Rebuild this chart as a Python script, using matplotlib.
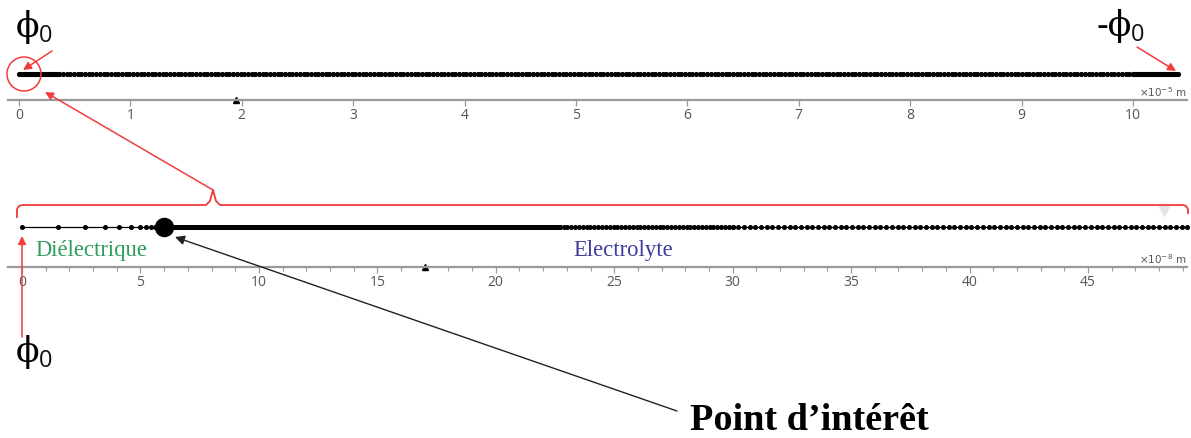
import numpy as np
import matplotlib.pyplot as plt
from matplotlib.patches import Circle

# --- mesh data (x positions in axis units) ---
# top view: (start, end, n_elements) in units of 1e-5 m
top_segments = [(0.0, 0.36, 40), (0.36, 10.0, 290), (10.0, 10.4, 40)]
top_ticks = [0, 1, 2, 3, 4, 5, 6, 7, 8, 9, 10]
top_marker_x = 1.95

# bottom view: units of 1e-8 m
diel_nodes = [0.0, 1.5, 2.66, 3.5, 4.1, 4.6, 5.0, 5.25, 5.45, 5.6, 5.72, 5.82, 5.9, 5.95]
elec_segments = [(6.0, 22.7, 420), (22.7, 30.0, 45), (30.0, 49.2, 80)]
bottom_ticks = [0, 5, 10, 15, 20, 25, 30, 35, 40, 45]
bottom_marker_x = 17.0
point_x = 6.0

W, H = 1191, 439


def build_nodes(segments, start=None):
    nodes = [] if start is None else list(start)
    for a, b, n in segments:
        nodes.extend(np.linspace(a, b, n + 1))
    return np.array(nodes)


def px_axes(fig, left, right, top, bottom):
    return fig.add_axes([left / W, 1 - bottom / H, (right - left) / W, (bottom - top) / H])


def style_axis(ax, ticks, minor, unit):
    for s in ['top', 'left', 'right']:
        ax.spines[s].set_visible(False)
    ax.spines['bottom'].set_color('#9a9a9a')
    ax.spines['bottom'].set_linewidth(1.6)
    ax.set_yticks([])
    ax.set_xticks(ticks)
    if minor:
        ax.set_xticks(np.arange(0, 50, 1), minor=True)
        ax.tick_params(axis='x', which='minor', length=3, width=0.8, color='#9a9a9a')
    ax.tick_params(axis='x', which='major', length=4, width=0.9, color='#9a9a9a',
                   labelsize=10, labelcolor='#555555', pad=1)
    for lab in ax.get_xticklabels():
        lab.set_family('Open Sans')
    ax.text(1.0, 0.04, unit, transform=ax.transAxes, ha='right', va='bottom',
            fontsize=7.5, color='#555555', family='DejaVu Sans')


fig = plt.figure(figsize=(W / 100, H / 100), dpi=100)

# top axes: 0 at px 19, 10 at px 1133
s_top = (1133 - 19) / 10
ax1 = px_axes(fig, 8, 1187, 45, 101)
ax1.set_xlim((8 - 19) / s_top, (1187 - 19) / s_top)
ax1.set_ylim(-26, 30)
x_top = build_nodes(top_segments)
ax1.plot(x_top, np.zeros_like(x_top), color='black', lw=1.0, marker='o', ms=2.7,
         mec='black', mfc='black', solid_capstyle='butt')
ax1.plot([top_marker_x], [-26], marker='^', color='black', ms=4, clip_on=False)
style_axis(ax1, top_ticks, False, r'$\times10^{-5}$ m')

# bottom axes: 0 at px 22, 45 at px 1088
s_bot = (1088 - 22) / 45
ax2 = px_axes(fig, 8, 1187, 208, 268)
ax2.set_xlim((8 - 22) / s_bot, (1187 - 22) / s_bot)
ax2.set_ylim(-40, 20)
x_bot = build_nodes(elec_segments, diel_nodes)
ax2.plot(x_bot, np.zeros_like(x_bot), color='black', lw=0.9, marker='o', ms=2.6,
         mec='black', mfc='black', clip_on=False)
ax2.plot([point_x], [0], marker='o', color='black', ms=13)
ax2.plot([bottom_marker_x], [-40], marker='^', color='black', ms=4, clip_on=False)
ax2.plot([48.2], [16], marker='v', color='#e4e4e4', ms=7, clip_on=False)
style_axis(ax2, bottom_ticks, True, r'$\times10^{-8}$ m')

# overlay in pixel coordinates for annotations
ov = fig.add_axes([0, 0, 1, 1])
ov.set_xlim(0, W)
ov.set_ylim(H, 0)
ov.axis('off')
ov.patch.set_alpha(0)

red = '#f03c3c'


def phi_label(x, y, prefix=''):
    t = ov.text(x, y, prefix + '\u03d5', fontsize=25, family='DejaVu Serif',
                ha='left', va='baseline', color='black')
    fig.canvas.draw()
    bb = t.get_window_extent()
    ov.text(x + bb.width - 1, y + 5, '0', fontsize=17, family='Open Sans',
            va='baseline', color='#111111')


phi_label(16, 37)
phi_label(1096, 36, '-')
phi_label(16, 362)

# red arrows and circle
arr = dict(arrowstyle='-|>', color=red, lw=1.1, mutation_scale=12, shrinkA=0, shrinkB=0)
ov.annotate('', xy=(23, 71), xytext=(52, 52), arrowprops=arr)
ov.annotate('', xy=(1176, 72), xytext=(1137, 48), arrowprops=arr)
ov.annotate('', xy=(45, 93), xytext=(213, 191), arrowprops=arr)
ov.annotate('', xy=(22, 237), xytext=(22, 338), arrowprops=arr)
ov.add_patch(Circle((24, 75), 17, fill=False, ec=red, lw=1.1))

# bracket
bx = [17, 17, 19, 22, 206, 210, 213, 216, 220, 1183, 1186, 1188, 1188]
by = [218, 210, 207, 206, 206, 202, 191, 202, 206, 206, 207, 210, 214]
ov.plot(bx, by, color=red, lw=1.3, solid_joinstyle='round')

# point of interest
ov.annotate('', xy=(175, 238), xytext=(677, 412),
            arrowprops=dict(arrowstyle='-|>', color='#222222', lw=1.0,
                            mutation_scale=14, shrinkA=0, shrinkB=0))
ov.text(690, 430, 'Point d\u2019int\u00e9r\u00eat', fontsize=27.5, fontweight='bold',
        family='Liberation Serif', va='baseline', color='black')

# region labels
ov.text(35, 256, 'Di\u00e9lectrique', fontsize=16.3, family='Liberation Serif',
        color='#2e9e5c', va='baseline')
ov.text(573, 256, 'Electrolyte', fontsize=16.3, family='Liberation Serif',
        color='#3c3ca0', va='baseline')

fig.savefig('out.png', dpi=100)
